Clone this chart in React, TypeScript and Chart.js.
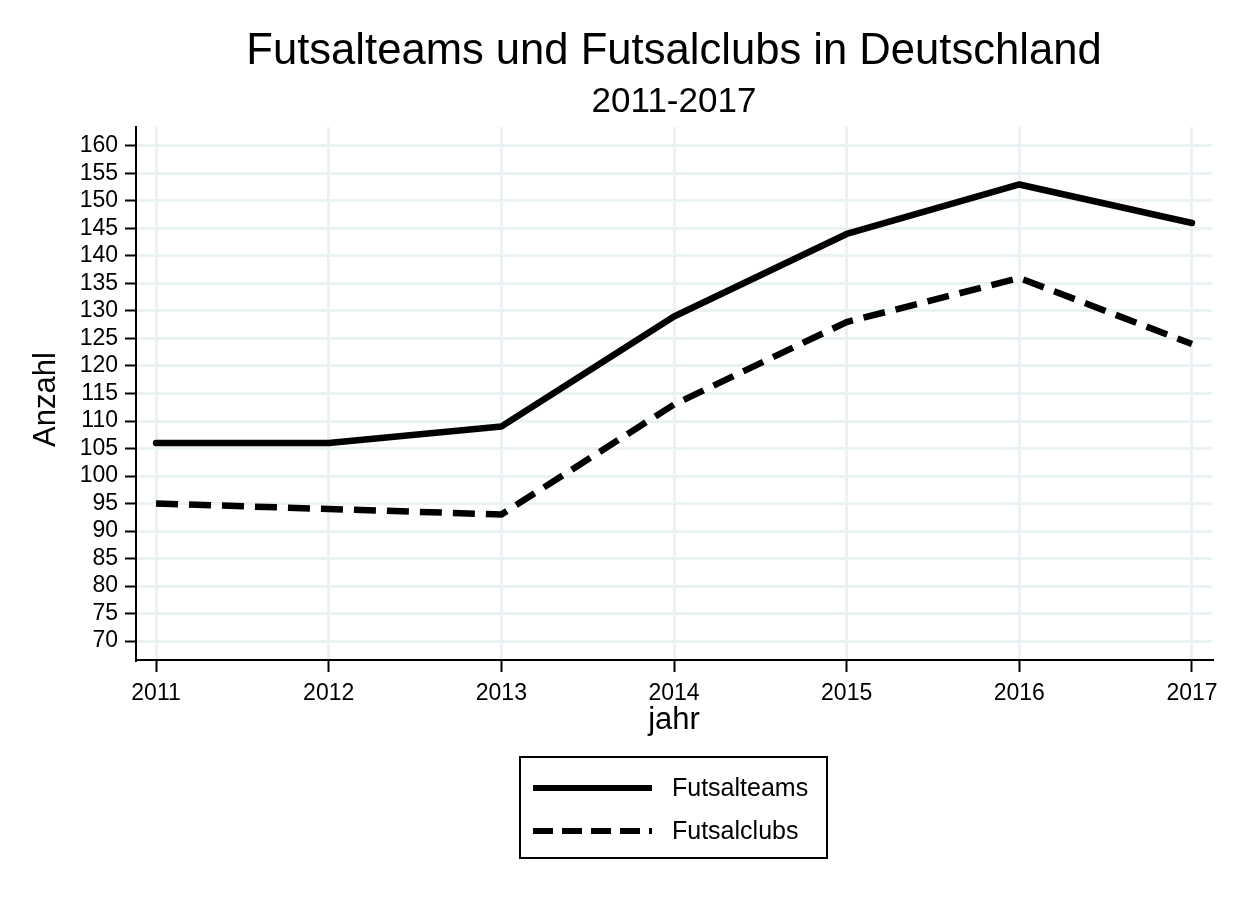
import React, { useEffect, useRef } from "react";
import { Chart, registerables } from "chart.js";

Chart.register(...registerables);

const years = [2011, 2012, 2013, 2014, 2015, 2016, 2017];
const futsalteams = [106, 106, 109, 129, 144, 153, 146];
const futsalclubs = [95, 94, 93, 113, 128, 136, 124];
const yTicks = [70, 75, 80, 85, 90, 95, 100, 105, 110, 115, 120, 125, 130, 135, 140, 145, 150, 155, 160];

const titleText = "Futsalteams und Futsalclubs in Deutschland";
const subtitleText = "2011-2017";
const yTitle = "Anzahl";
const xTitle = "jahr";
const legendLabels = ["Futsalteams", "Futsalclubs"];

const FONT = "'Liberation Sans', Arial, sans-serif";

const textPlugin = {
  id: "stataText",
  afterDraw(chart: any) {
    const ctx = chart.ctx as CanvasRenderingContext2D;
    const area = chart.chartArea;
    const cx = (area.left + area.right) / 2;
    ctx.save();
    ctx.fillStyle = "#000";
    ctx.textAlign = "center";
    ctx.textBaseline = "alphabetic";
    ctx.font = `43.6px ${FONT}`;
    ctx.fillText(titleText, cx, 64);
    ctx.font = `35px ${FONT}`;
    ctx.fillText(subtitleText, cx, 112);
    ctx.font = `31px ${FONT}`;
    ctx.textBaseline = "middle";
    ctx.fillText(xTitle, cx, 720);
    ctx.save();
    ctx.translate(46, (area.top + area.bottom) / 2 + 6);
    ctx.rotate(-Math.PI / 2);
    ctx.fillText(yTitle, 0, 0);
    ctx.restore();

    // legend
    const bx = 520, by = 757, bw = 307, bh = 101;
    ctx.strokeStyle = "#000";
    ctx.lineWidth = 2;
    ctx.strokeRect(bx, by, bw, bh);
    const rows = [788, 831];
    const dashes = [[], [20, 9]];
    rows.forEach((y, i) => {
      ctx.beginPath();
      ctx.setLineDash(dashes[i]);
      ctx.lineWidth = 6;
      ctx.lineCap = "butt";
      ctx.moveTo(533, y);
      ctx.lineTo(652, y);
      ctx.stroke();
      ctx.setLineDash([]);
      ctx.font = `25px ${FONT}`;
      ctx.textAlign = "left";
      ctx.textBaseline = "middle";
      ctx.fillText(legendLabels[i], 672, y + 1);
    });
    ctx.restore();
  },
};

export default function App() {
  const ref = useRef<HTMLCanvasElement>(null);
  useEffect(() => {
    document.body.style.margin = "0";
    const chart = new Chart(ref.current!, {
      type: "line",
      data: {
        datasets: [
          {
            label: legendLabels[0],
            data: years.map((y, i) => ({ x: y, y: futsalteams[i] })),
            borderColor: "#000",
            borderWidth: 6.5,
            pointRadius: 0,
            borderCapStyle: "round",
            borderJoinStyle: "round",
            tension: 0,
          },
          {
            label: legendLabels[1],
            data: years.map((y, i) => ({ x: y, y: futsalclubs[i] })),
            borderColor: "#000",
            borderWidth: 6.5,
            borderDash: [22, 11],
            pointRadius: 0,
            borderCapStyle: "butt",
            borderJoinStyle: "miter",
            tension: 0,
          },
        ],
      },
      options: {
        animation: false,
        responsive: false,
        maintainAspectRatio: false,
        layout: { padding: { top: 127, left: 0, right: 23, bottom: 0 } },
        plugins: {
          legend: { display: false },
          title: { display: false },
          tooltip: { enabled: false },
        },
        scales: {
          x: {
            type: "linear",
            min: 2010.884,
            max: 2017.116,
            afterBuildTicks: (s: any) => {
              s.ticks = years.map((v) => ({ value: v }));
            },
            afterFit: (s: any) => {
              s.height = 897 - 660;
            },
            ticks: {
              color: "#000",
              font: { family: FONT, size: 23 },
              padding: 8,
              maxRotation: 0,
              autoSkip: false,
              callback: (v: any) => String(v),
            },
            grid: {
              color: "#eaf2f3",
              lineWidth: 3,
              tickColor: "#000",
              tickWidth: 2,
              tickLength: 12,
              drawOnChartArea: true,
            },
            border: { color: "#000", width: 2 },
          },
          y: {
            type: "linear",
            min: 66.55,
            max: 163.45,
            afterBuildTicks: (s: any) => {
              s.ticks = yTicks.map((v) => ({ value: v }));
            },
            afterFit: (s: any) => {
              s.width = 136;
            },
            ticks: {
              color: "#000",
              font: { family: FONT, size: 23 },
              padding: 7,
              autoSkip: false,
              callback: (v: any) => String(v),
            },
            grid: {
              color: "#eaf2f3",
              lineWidth: 3,
              tickColor: "#000",
              tickWidth: 2,
              tickLength: 11,
            },
            border: { color: "#000", width: 2 },
          },
        },
      },
      plugins: [textPlugin],
    } as any);
    return () => chart.destroy();
  }, []);
  return (
    <div style={{ position: "absolute", left: 0, top: 0, width: 1235, height: 897, background: "#fff" }}>
      <canvas ref={ref} width={1235} height={897} style={{ width: 1235, height: 897 }} />
    </div>
  );
}
